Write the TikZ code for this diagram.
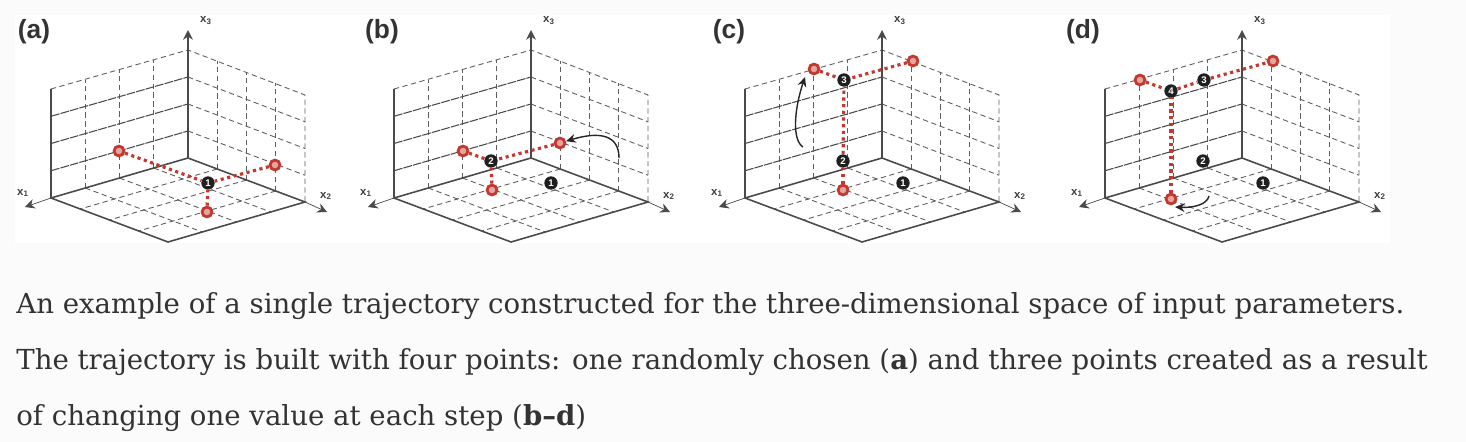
\documentclass[tikz,border=0pt]{standalone}
\usepackage{fontspec}
\setmainfont{DejaVu Serif}
\setsansfont{Liberation Sans}
\usetikzlibrary{positioning,calc,arrows.meta}

\definecolor{pagebg}{HTML}{FBFBFB}
\definecolor{gridcol}{HTML}{5E5E5E}
\definecolor{axiscol}{HTML}{4A4A4A}
\definecolor{trajcol}{HTML}{C4392F}
\definecolor{captcol}{HTML}{333333}

\tikzset{
  griddash/.style={draw=gridcol, line width=0.5pt, densely dashed},
  griddark/.style={draw=axiscol, line width=0.6pt, dash pattern=on 5pt off 0.6pt},
  frameline/.style={draw=axiscol, line width=0.9pt},
  axisline/.style={draw=axiscol, line width=0.4pt, -{Stealth[length=5.5pt,width=5.5pt]}},
  redpt/.style={circle, draw=trajcol, line width=1.6pt, fill=trajcol!45!white, minimum size=5.6pt, inner sep=0pt},
  blackpt/.style={circle, fill=black!88, text=white, minimum size=7.6pt, inner sep=0pt,
    font=\sffamily\bfseries\fontsize{5.5}{6}\selectfont},
  traj/.style={draw=trajcol, line width=1.8pt, dotted},
  moveto/.style={draw=black!85, line width=0.8pt, -{Stealth[length=5.5pt,width=5pt]}},
  axislabel/.style={font=\sffamily\bfseries\fontsize{6.5}{7}\selectfont, text=black!75, inner sep=0pt},
  panellabel/.style={font=\sffamily\bfseries\fontsize{15}{16}\selectfont, text=black!80, inner sep=0pt},
  caption/.style={anchor=base west, font=\fontsize{15.7}{18}\selectfont, text=captcol, inner sep=0pt},
}

% one box of grids: #1 name, #2 shift in pixels
\newcommand{\gridpanel}[2]{
  \begin{scope}[shift={(#2,0)}]
    \coordinate (#1O) at (188,158);
    \coordinate (#1L) at (51,198);
    \coordinate (#1R) at (305,202);
    \coordinate (#1F) at (168,242);
    \coordinate (#1OT) at (188,50);
    \coordinate (#1LT) at (51,89);
    \coordinate (#1RT) at (305,95);
    \coordinate (#1top) at (188,30);
    \coordinate (#1one) at (25,207);
    \coordinate (#1two) at (327,212);
    \foreach \i in {1,2,3}{
      \draw[griddash] ($(#1L)!\i/4!(#1O)$) -- ($(#1L)!\i/4!(#1O)+(0,-108)$);
      \draw[griddash] ($(#1O)!\i/4!(#1R)$) -- ($(#1O)!\i/4!(#1R)+(0,-108)$);
      \draw[griddash] ($(#1L)!\i/4!(#1O)$) -- ($(#1F)!\i/4!(#1R)$);
      \draw[griddash] ($(#1O)!\i/4!(#1R)$) -- ($(#1L)!\i/4!(#1F)$);
      \draw[griddark] ($(#1L)!\i/4!(#1LT)$) -- ($(#1O)!\i/4!(#1OT)$);
      \draw[griddash] ($(#1O)!\i/4!(#1OT)$) -- ($(#1R)!\i/4!(#1RT)$);
    }
    \draw[griddash] (#1LT) -- (#1OT) -- (#1RT) -- (#1R);
    \draw[frameline] (#1LT) -- (#1L) -- (#1F) -- (#1R) -- (#1O) -- (#1L);
    \draw[axisline, line width=0.9pt] (#1O) -- (#1top);
    \draw[axisline] (#1L) -- (#1one);
    \draw[axisline] (#1R) -- (#1two);
    \node[axislabel] (#1xa) at (23,193) {x\textsubscript{1}};
    \node[axislabel] (#1xb) at (326,196) {x\textsubscript{2}};
    \node[axislabel] (#1xc) at (206,21) {x\textsubscript{3}};
  \end{scope}
}

\begin{document}
\begin{tikzpicture}[x=0.02cm,y=-0.02cm]
\useasboundingbox (0,0) rectangle (1466,442);
\fill[pagebg] (0,0) rectangle (1466,442);
\fill[white] (15,15) rectangle (1390,243);

\gridpanel{a}{0}
\gridpanel{b}{343}
\gridpanel{c}{694}
\gridpanel{d}{1054}

\node[panellabel] (alabel) at (34,32) {(a)};
\node[panellabel] (blabel) at (382,32) {(b)};
\node[panellabel] (clabel) at (729,32) {(c)};
\node[panellabel] (dlabel) at (1083,32) {(d)};

% panel a
\node[redpt] (ar1) at (119,151) {};
\node[redpt] (ar2) at (275,165) {};
\node[redpt] (ar3) at (207,212) {};
\node[blackpt] (ak1) at (208,183) {1};
\draw[traj] (ar1) -- (ak1);
\draw[traj] (ar2) -- (ak1);
\draw[traj] (ar3) -- (ak1);

% panel b
\node[redpt] (br1) at (463,151) {};
\node[redpt] (br2) at (560,143) {};
\node[redpt] (br3) at (492,190) {};
\node[blackpt] (bk1) at (551,183) {1};
\node[blackpt] (bk2) at (491,161) {2};
\draw[traj] (br1) -- (bk2);
\draw[traj] (br2) -- (bk2);
\draw[traj] (br3) -- (bk2);
\coordinate (bfrom) at (619,158);
\draw[moveto] (bfrom) .. controls (619,135) and (600,131) .. (br2);

% panel c
\node[redpt] (cr1) at (814,69) {};
\node[redpt] (cr2) at (913,61) {};
\node[redpt] (cr3) at (843,190) {};
\node[blackpt] (ck1) at (903,183) {1};
\node[blackpt] (ck2) at (843,161) {2};
\node[blackpt] (ck3) at (844,80) {3};
\draw[traj] (cr1) -- (ck3);
\draw[traj] (cr2) -- (ck3);
\draw[traj] (ck2) -- (ck3);
\draw[traj] (cr3) -- (ck2);
\coordinate (cfrom) at (803,147);
\coordinate (cto) at (805,77);
\draw[moveto] (cfrom) .. controls (792,140) and (794,110) .. (cto);

% panel d
\node[redpt] (dr1) at (1140,80) {};
\node[redpt] (dr2) at (1273,61) {};
\node[redpt] (dr3) at (1171,199) {};
\node[blackpt] (dk1) at (1263,183) {1};
\node[blackpt] (dk2) at (1203,161) {2};
\node[blackpt] (dk3) at (1204,80) {3};
\node[blackpt] (dk4) at (1171,91) {4};
\draw[traj] (dr1) -- (dk4);
\draw[traj] (dk4) -- (dk3);
\draw[traj] (dk3) -- (dr2);
\draw[traj] (dr3) -- (dk4);
\coordinate (dfrom) at (1209,196);
\coordinate (dto) at (1175,207);
\draw[moveto] (dfrom) .. controls (1207,205) and (1192,208) .. (dto);

% caption lines
\node[caption] (capa) at (16,313) {An example of a single trajectory constructed for the three-dimensional space of input parameters.};
\node[caption] (capb) at (16,369) {The trajectory is built with four points: one randomly chosen (\textbf{a}) and three points created as a result};
\node[caption] (capc) at (16,425) {of changing one value at each step (\textbf{b--d})};

\end{tikzpicture}
\end{document}
